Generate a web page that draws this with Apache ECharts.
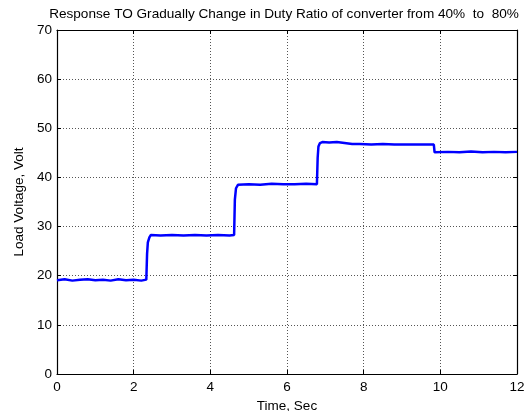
<!DOCTYPE html>
<html><head><meta charset="utf-8">
<script src="https://cdn.jsdelivr.net/npm/echarts@6/dist/echarts.min.js"></script>
<style>html,body{margin:0;padding:0;background:#fff}#c{width:529px;height:411px}</style>
</head><body><div id="c"></div>
<script>
var titleText = 'Response TO Gradually Change in Duty Ratio of converter from 40%  to  80%';
var xName = 'Time, Sec';
var yName = 'Load Voltage, Volt';
var xTicks = [0, 2, 4, 6, 8, 10, 12];
var yTicks = [0, 10, 20, 30, 40, 50, 60, 70];
var timeSec = [0, 0.2, 0.4, 0.6, 0.8, 1.0, 1.2, 1.4, 1.6, 1.8, 2.0, 2.2, 2.33, 2.35, 2.37, 2.41, 2.45,
  2.7, 3.0, 3.3, 3.6, 3.9, 4.2, 4.5, 4.62, 4.64, 4.67, 4.72,
  5.0, 5.3, 5.6, 5.9, 6.2, 6.5, 6.78, 6.80, 6.82, 6.86, 6.92,
  7.1, 7.3, 7.5, 7.7, 7.9, 8.2, 8.5, 8.8, 9.1, 9.4, 9.7, 9.83, 9.85, 9.9,
  10.2, 10.5, 10.8, 11.1, 11.4, 11.7, 12.0];
var voltage = [19.1, 19.3, 19.0, 19.2, 19.3, 19.1, 19.2, 19.0, 19.3, 19.1, 19.2, 19.0, 19.2, 24.5, 26.8, 27.8, 28.3,
  28.2, 28.3, 28.2, 28.3, 28.2, 28.3, 28.2, 28.3, 35.5, 37.8, 38.5,
  38.6, 38.5, 38.7, 38.6, 38.6, 38.7, 38.6, 44.0, 46.3, 47.0, 47.2,
  47.1, 47.2, 47.0, 46.8, 46.8, 46.7, 46.8, 46.7, 46.7, 46.7, 46.7, 46.7, 45.1, 45.2,
  45.2, 45.1, 45.3, 45.1, 45.2, 45.1, 45.2];

var pairs = timeSec.map(function (t, i) { return [t, voltage[i]]; });
var chart = echarts.init(document.getElementById('c'));
var font = 'Liberation Sans, Arial, sans-serif';
var gridLine = { show: true, lineStyle: { color: '#555', type: [1, 2], width: 1 } };
chart.setOption({
  animation: false,
  backgroundColor: '#fff',
  title: { text: titleText, left: 279, top: 2, textAlign: 'center',
    textStyle: { fontFamily: font, fontSize: 13.6, fontWeight: 'normal', color: '#000' } },
  grid: { left: 57, right: 12, top: 30, bottom: 37, containLabel: false, outerBoundsMode: 'none' },
  xAxis: [{
    type: 'value', min: xTicks[0], max: xTicks[xTicks.length - 1], interval: 2,
    name: xName, nameLocation: 'middle', nameGap: 22,
    nameTextStyle: { fontFamily: font, fontSize: 13.5, color: '#000' },
    axisLine: { show: true, lineStyle: { color: '#000', width: 1.2 } },
    axisTick: { show: true, inside: true, length: 4, lineStyle: { color: '#000' } },
    axisLabel: { fontFamily: font, fontSize: 13.5, color: '#000', margin: 6 },
    splitLine: gridLine
  }, {
    type: 'value', position: 'top', min: 0, max: 12, interval: 2,
    axisLine: { show: true, onZero: false, lineStyle: { color: '#000', width: 1.2 } },
    axisTick: { show: true, inside: true, length: 4, lineStyle: { color: '#000' } },
    axisLabel: { show: false }, splitLine: { show: false }
  }],
  yAxis: [{
    type: 'value', min: yTicks[0], max: yTicks[yTicks.length - 1], interval: 10,
    name: yName, nameLocation: 'middle', nameGap: 29, nameRotate: 90,
    nameTextStyle: { fontFamily: font, fontSize: 13.5, color: '#000' },
    axisLine: { show: true, lineStyle: { color: '#000', width: 1.2 } },
    axisTick: { show: true, inside: true, length: 4, lineStyle: { color: '#000' } },
    axisLabel: { fontFamily: font, fontSize: 13.5, color: '#000', margin: 5 },
    splitLine: gridLine
  }, {
    type: 'value', position: 'right', min: 0, max: 70, interval: 10,
    axisLine: { show: true, onZero: false, lineStyle: { color: '#000', width: 1.2 } },
    axisTick: { show: true, inside: true, length: 4, lineStyle: { color: '#000' } },
    axisLabel: { show: false }, splitLine: { show: false }
  }],
  series: [{
    type: 'line', data: pairs, xAxisIndex: 0, yAxisIndex: 0,
    showSymbol: false, symbol: 'none',
    lineStyle: { color: '#0000ff', width: 2.5 }
  }]
});
</script></body></html>
